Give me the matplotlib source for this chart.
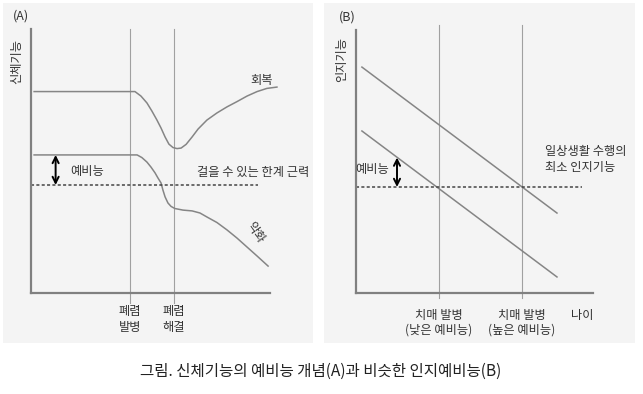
import matplotlib.pyplot as plt
from matplotlib.patches import Rectangle

plt.rcParams['font.family'] = ['Noto Sans CJK KR', 'DejaVu Sans']

# ---- panel A: physical function over time (0-100 units) ----
recover_x = [1.3, 43.5, 46.0, 48.5, 50.6, 52.7, 54.4, 56.1, 57.7, 59.4, 61.1, 62.8,
             64.9, 67.4, 69.9, 73.6, 77.8, 82.0, 86.2, 90.4, 94.6, 98.7, 102.9]
recover_y = [76.3, 76.3, 74.6, 72.0, 68.9, 65.5, 62.5, 59.1, 56.4, 55.1, 54.7, 54.9,
             56.3, 59.1, 62.1, 65.5, 68.2, 70.5, 72.5, 74.6, 76.3, 77.5, 78.0]
worse_x = [1.3, 44.4, 46.4, 48.5, 50.2, 51.9, 53.1, 54.4, 55.2, 56.1, 57.3, 58.6,
           60.2, 63.6, 67.4, 70.7, 73.6, 77.8, 82.0, 86.2, 90.4, 94.6, 99.2]
worse_y = [52.3, 52.3, 51.3, 49.6, 47.7, 45.5, 43.6, 41.7, 39.0, 36.4, 34.1, 32.8,
           32.0, 31.4, 31.1, 30.3, 28.8, 26.7, 23.9, 20.8, 17.4, 14.0, 10.2]
walk_limit = 40.9
walk_limit_end = 95.0
pneumonia_x = [41.4, 59.8]
pneumonia_labels = ['폐렴\n발병', '폐렴\n해결']

# ---- panel B: cognitive function over age (0-100 units) ----
high_x = [2.5, 84.8]
high_y = [85.9, 30.4]
low_x = [2.5, 84.8]
low_y = [61.6, 6.1]
daily_min = 40.3
daily_min_end = 95.3
dementia_x = [35.0, 70.0]
dementia_labels = ['치매 발병\n(낮은 예비능)', '치매 발병\n(높은 예비능)']

text_c = '#333333'
curve_c = '#858585'
axis_c = '#808080'
vline_c = '#a0a0a0'
fs = 8.8

W, H = 643, 394
fig = plt.figure(figsize=(W / 100, H / 100), dpi=100)
fig.patch.set_facecolor('white')


def px_box(x0, y0, x1, y1):
    # pixel box (top-left origin) -> figure fraction [left, bottom, width, height]
    return [x0 / W, 1 - y1 / H, (x1 - x0) / W, (y1 - y0) / H]


# light grey panel backgrounds
for box in (px_box(3, 3, 313, 343), px_box(324, 3, 635, 343)):
    fig.patches.append(Rectangle((box[0], box[1]), box[2], box[3],
                                 transform=fig.transFigure, facecolor='#f4f4f4',
                                 edgecolor='none', zorder=-5))


def setup(ax):
    ax.set_xlim(0, 100)
    ax.set_ylim(0, 100)
    ax.patch.set_alpha(0)
    ax.set_zorder(2)
    for s in ('top', 'right'):
        ax.spines[s].set_visible(False)
    for s in ('left', 'bottom'):
        ax.spines[s].set_color(axis_c)
        ax.spines[s].set_linewidth(1.6)
    ax.set_xticks([])
    ax.set_yticks([])


def dbl_arrow(ax, x, y0, y1):
    ax.annotate('', xy=(x, y0), xytext=(x, y1),
                arrowprops=dict(arrowstyle='<->', color='black', lw=1.4,
                                shrinkA=0, shrinkB=0, mutation_scale=11))


# ---------------- panel A ----------------
axA = fig.add_axes(px_box(31, 29, 270, 293))
setup(axA)
for x in pneumonia_x:
    axA.plot([x, x], [-3.8, 100], color=vline_c, lw=0.8, clip_on=False)
axA.plot(recover_x, recover_y, color=curve_c, lw=1.1, clip_on=False)
axA.plot(worse_x, worse_y, color=curve_c, lw=1.1, clip_on=False)
axA.plot([0, walk_limit_end], [walk_limit, walk_limit], color='#444444', lw=1.1,
         ls=(0, (2, 1.5)))
dbl_arrow(axA, 10.3, worse_y[0], walk_limit)
axA.text(16.3, 46.0, '예비능', fontsize=fs, color=text_c, va='center', ha='left')
axA.text(69.5, 45.8, '걸을 수 있는 한계 근력', fontsize=fs, color=text_c,
         va='center', ha='left', clip_on=False)
axA.text(96.6, 80.6, '회복', fontsize=fs, color=text_c, va='center', ha='center')
axA.text(93.7, 22.7, '악화', fontsize=fs, color=text_c, va='center', ha='center',
         rotation=-55)
for x, lab in zip(pneumonia_x, pneumonia_labels):
    axA.text(x, -4.6, lab, fontsize=fs, color=text_c, ha='center', va='top',
             linespacing=1.25, clip_on=False)

# ---------------- panel B ----------------
axB = fig.add_axes(px_box(356, 30, 593, 293))
setup(axB)
for x in dementia_x:
    axB.plot([x, x], [-1.9, 101.9], color=vline_c, lw=0.8, clip_on=False)
axB.plot(high_x, high_y, color=curve_c, lw=1.1)
axB.plot(low_x, low_y, color=curve_c, lw=1.1)
axB.plot([0, daily_min_end], [daily_min, daily_min], color='#444444', lw=1.1,
         ls=(0, (2, 1.5)))
dbl_arrow(axB, 17.3, 51.5, daily_min)
axB.text(13.9, 46.8, '예비능', fontsize=fs, color=text_c, va='center', ha='right')
axB.text(79.7, 50.6, '일상생활 수행의\n최소 인지기능', fontsize=fs, color=text_c,
         va='center', ha='left', linespacing=1.3, clip_on=False)
for x, lab in zip(dementia_x, dementia_labels):
    axB.text(x, -5.9, lab, fontsize=fs, color=text_c, ha='center', va='top',
             linespacing=1.25, clip_on=False)
axB.text(95.3, -5.9, '나이', fontsize=fs, color=text_c, ha='center', va='top',
         clip_on=False)

# panel titles, axis names, caption
fig.text(21 / W, 1 - 16 / H, '(A)', fontsize=9, color=text_c, ha='center', va='center')
fig.text(347 / W, 1 - 17 / H, '(B)', fontsize=9, color=text_c, ha='center', va='center')
fig.text(17 / W, 1 - 62 / H, '신체기능', fontsize=fs, color=text_c, rotation=90,
         ha='center', va='center')
fig.text(341.5 / W, 1 - 59.5 / H, '인지기능', fontsize=fs, color=text_c, rotation=90,
         ha='center', va='center')
fig.text(321 / W, 1 - 371 / H, '그림. 신체기능의 예비능 개념(A)과 비슷한 인지예비능(B)',
         fontsize=11.2, color='#222222', ha='center', va='center')

fig.savefig('out.png', dpi=100)
